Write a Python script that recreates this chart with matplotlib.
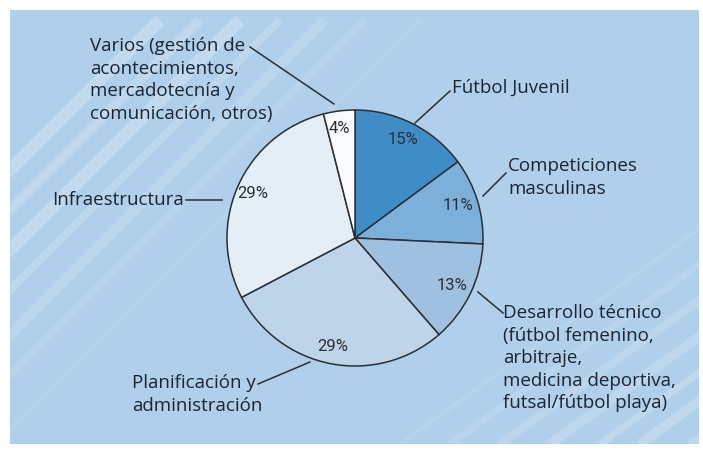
import matplotlib.pyplot as plt
import matplotlib.patches as mpatches
import numpy as np

# slice data (clockwise from 12 o'clock)
categories = ['Fútbol Juvenil', 'Competiciones masculinas', 'Desarrollo técnico',
              'Planificación y administración', 'Infraestructura', 'Varios']
values = [15, 11, 13, 29, 29, 4]
pct_labels = ['15%', '11%', '13%', '29%', '29%', '4%']
colors = ['#3f8cc6', '#7db0d9', '#9fc0de', '#bed4e8', '#e4eef7', '#f9fbfe']

W, H = 703, 455
BG = '#afcfea'
STRIPE = '#c6ddf1'

fig = plt.figure(figsize=(W / 100, H / 100), dpi=100)
ax = fig.add_axes([0, 0, 1, 1])
ax.set_xlim(0, W)
ax.set_ylim(0, H)
ax.set_aspect('equal')
ax.axis('off')


def py(y):
    # picture-style y (from top) -> axes y
    return H - y


# blue panel
panel = mpatches.Rectangle((10, py(444)), 689, 434, facecolor=BG, edgecolor='none', zorder=0)
ax.add_patch(panel)

# faint diagonal stripes, upper left and lower right
for x0, lw, a in [(-260, 9, 0.8), (-220, 7, 0.7), (-180, 9, 0.8), (-140, 6, 0.6),
                  (-95, 8, 0.5), (-55, 5, 0.4), (0, 4, 0.3)]:
    xs = np.array([x0, x0 + 420])
    ln, = ax.plot(xs, py(440) + (xs - x0) * 1.0, color=STRIPE, lw=lw, alpha=a,
                  solid_capstyle='butt', zorder=1)
    ln.set_clip_path(panel)
for x0, lw, a in [(400, 3, 0.3), (450, 5, 0.45), (500, 6, 0.55), (550, 7, 0.6),
                  (600, 5, 0.7), (640, 7, 0.7), (690, 5, 0.6)]:
    xs = np.array([x0, x0 + 400])
    ln, = ax.plot(xs, py(444) + (xs - x0) * 0.72, color=STRIPE, lw=lw, alpha=a,
                  solid_capstyle='butt', zorder=1)
    ln.set_clip_path(panel)

cx, cy, R = 355, py(238), 128
wedges, _ = ax.pie(values, colors=colors, startangle=90, counterclock=False,
                   center=(cx, cy), radius=R, frame=True,
                   wedgeprops=dict(edgecolor='#2b2f33', linewidth=1.1))
for w in wedges:
    w.set_zorder(3)
ax.set_xlim(0, W)
ax.set_ylim(0, H)
ax.axis('off')

pct_font = ['Roboto', 'DejaVu Sans']
for w, lab in zip(wedges, pct_labels):
    ang = np.deg2rad((w.theta1 + w.theta2) / 2)
    ax.text(cx + 0.86 * R * np.cos(ang) - 2, cy + 0.86 * R * np.sin(ang), lab,
            ha='center', va='center', fontsize=12, color='#2a2f36', family=pct_font, zorder=4)

lab_font = ['Open Sans', 'DejaVu Sans']
txt = dict(fontsize=13.5, color='#1b2533', family=lab_font, va='top', ha='left',
           linespacing=1.33, zorder=4)

ax.text(90, py(37), 'Varios (gestión de\nacontecimientos,\nmercadotecnía y\ncomunicación, otros)', **txt)
ax.text(452, py(79), 'Fútbol Juvenil', **txt)
ax.text(508, py(157), 'Competiciones\nmasculinas', **txt)
ax.text(52, py(191), 'Infraestructura', **txt)
ax.text(503, py(304), 'Desarrollo técnico\n(fútbol femenino,\narbitraje,\nmedicina deportiva,\nfutsal/fútbol playa)', **txt)
ax.text(132, py(374), 'Planificación y\nadministración', **txt)

# leader lines
leaders = [((250, 47), (334, 104)),
           ((450, 91), (415, 123)),
           ((506, 173), (483, 196)),
           ((186, 200), (222, 200)),
           ((478, 292), (503, 313)),
           ((258, 384), (310, 362))]
for (x1, y1), (x2, y2) in leaders:
    ax.plot([x1, x2], [py(y1), py(y2)], color='#2b2f33', lw=1.1, zorder=4)

fig.savefig('out.png', dpi=100, facecolor='white')
